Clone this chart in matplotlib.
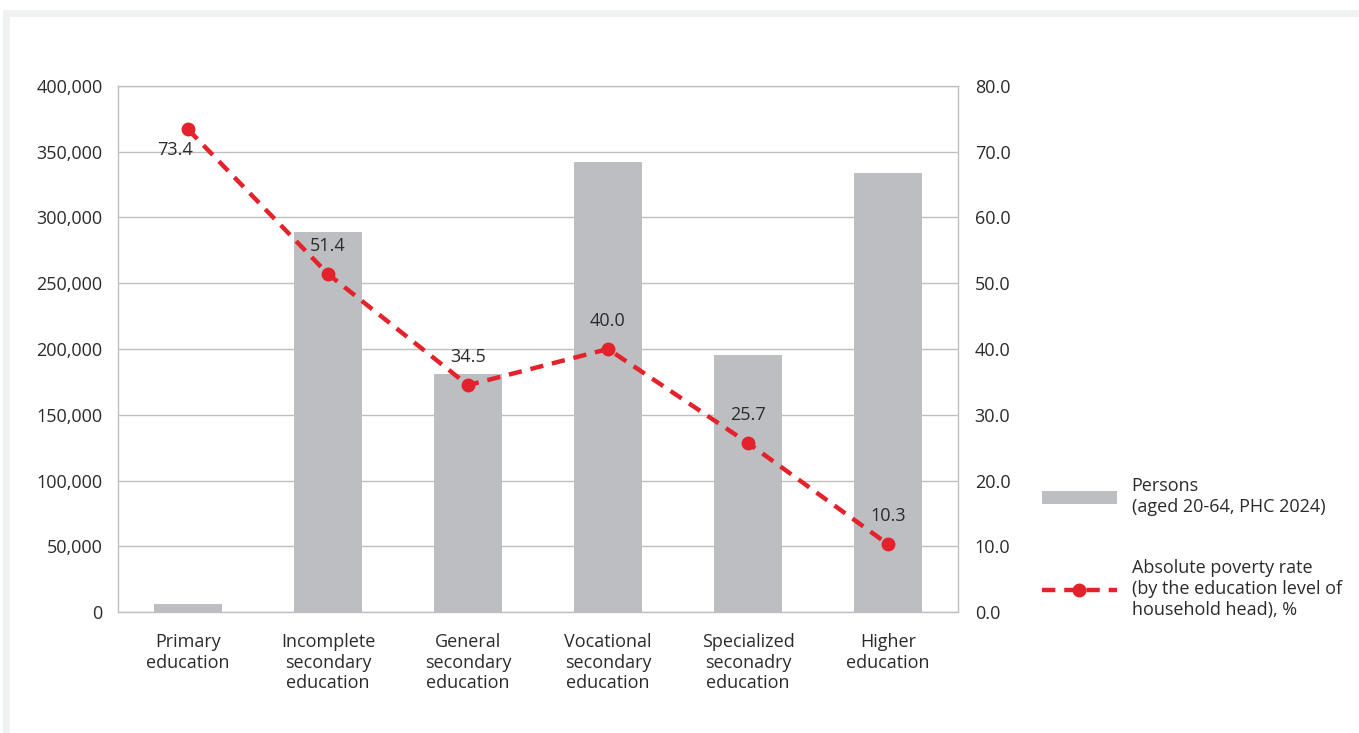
import matplotlib
matplotlib.use("Agg")
import matplotlib.pyplot as plt
from matplotlib.patches import Rectangle
from matplotlib.lines import Line2D
from matplotlib.patches import Patch

categories = ["Primary\neducation", "Incomplete\nsecondary\neducation", "General\nsecondary\neducation",
              "Vocational\nsecondary\neducation", "Specialized\nseconadry\neducation", "Higher\neducation"]
persons = [6000, 289000, 181000, 342000, 195500, 334000]
poverty_rate = [73.4, 51.4, 34.5, 40.0, 25.7, 10.3]
left_ticks = [0, 50000, 100000, 150000, 200000, 250000, 300000, 350000, 400000]
right_ticks = [0, 10, 20, 30, 40, 50, 60, 70, 80]

plt.rcParams['font.family'] = ['Open Sans', 'DejaVu Sans']
TEXT = "#2b2b2b"
BAR = "#BDBEC1"
RED = "#E3222B"
GRID = "#BFBFBF"
FS = 13

fig = plt.figure(figsize=(13.59, 7.33), dpi=100)
fig.patch.set_facecolor("white")
W, H = 1359, 733
# light frame along top and left edges
fig.add_artist(Rectangle((3 / W, 0), 1 - 3 / W, 1 - 10 / H, transform=fig.transFigure,
                         facecolor="#F0F1F2", edgecolor="none", zorder=-2))
fig.add_artist(Rectangle((10 / W, 0), 1 - 10 / W, 1 - 17 / H, transform=fig.transFigure,
                         facecolor="white", edgecolor="none", zorder=-1))

ax = fig.add_axes([118 / W, 1 - 612 / H, 840 / W, 526 / H])
ax.set_facecolor("none")
x = range(len(categories))
ax.bar(x, persons, width=0.48, color=BAR, zorder=2)
ax.set_xlim(-0.5, 5.5)
ax.set_ylim(0, 400000)
ax.set_yticks(left_ticks)
ax.set_yticklabels([f"{v:,}" for v in left_ticks])
ax.set_xticks(list(x))
ax.set_xticklabels(categories, linespacing=1.2)
ax.yaxis.grid(True, color=GRID, linewidth=1)
ax.set_axisbelow(True)
ax.tick_params(length=0, labelsize=FS, colors=TEXT)
ax.tick_params(axis="y", pad=11)
ax.tick_params(axis="x", pad=15)
for s in ax.spines.values():
    s.set_color(GRID)
    s.set_linewidth(1)

ax2 = ax.twinx()
ax2.set_ylim(0, 80)
ax2.set_yticks(right_ticks)
ax2.set_yticklabels([f"{v:.1f}" for v in right_ticks])
ax2.tick_params(length=0, labelsize=FS, colors=TEXT, pad=12)
for s in ax2.spines.values():
    s.set_visible(False)
ax2.plot(list(x), poverty_rate, color=RED, linewidth=3.2, linestyle=(0, (3, 2)),
         marker="o", markersize=9, zorder=3)

for i, v in enumerate(poverty_rate):
    if i == 0:
        ax2.annotate(f"{v:.1f}", (i, v), xytext=(-9, -15), textcoords="offset points",
                     ha="center", va="center", fontsize=FS, color=TEXT)
    else:
        ax2.annotate(f"{v:.1f}", (i, v), xytext=(0, 20), textcoords="offset points",
                     ha="center", va="center", fontsize=FS, color=TEXT)

handles = [Patch(facecolor=BAR, edgecolor="none"),
           Line2D([0], [0], color=RED, linewidth=3.2, linestyle=(0, (3, 2)),
                  marker="o", markersize=9)]
labels = ["Persons\n(aged 20-64, PHC 2024)",
          "Absolute poverty rate\n(by the education level of\nhousehold head), %"]
leg = fig.legend(handles, labels, loc="upper left", bbox_to_anchor=(1025.5 / W, 1 - 461 / H),
                 frameon=False, fontsize=FS, labelcolor=TEXT, handlelength=4.15,
                 handleheight=0.7, handletextpad=0.83, labelspacing=2.4)

fig.savefig("out.png", dpi=100)
